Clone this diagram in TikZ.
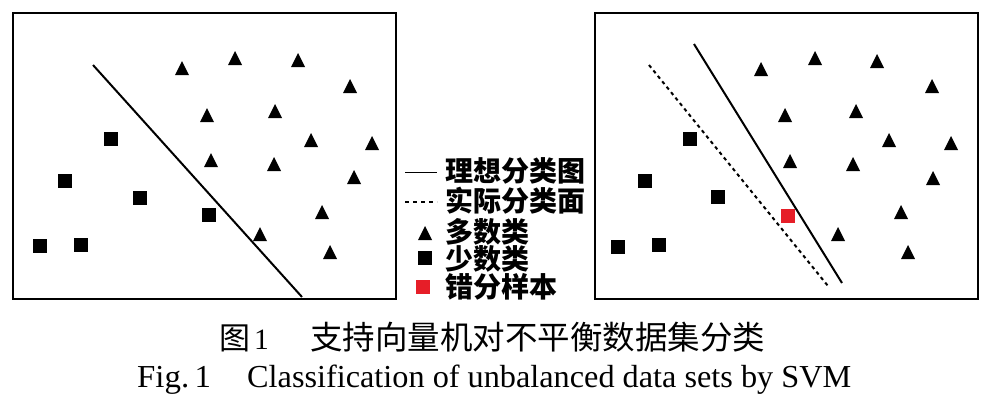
\documentclass[tikz,border=0pt]{standalone}
\usepackage{fontspec}
\usepackage{graphicx}
\setmainfont{Liberation Serif}
\newfontfamily\cjk{Noto Sans CJK SC}
\definecolor{wrongred}{RGB}{230,30,40}
\tikzset{
  panelframe/.style={line width=2pt},
  idealline/.style={line width=2pt},
  actualline/.style={line width=2pt, dash pattern=on 3.5pt off 3.5pt},
  legline/.style={line width=1.4pt},
  legdash/.style={line width=1.4pt, dash pattern=on 4pt off 4pt},
  legtext/.style={anchor=west, inner sep=0pt, font=\cjk\bfseries\fontsize{28}{28}\selectfont},
  captext/.style={inner sep=0pt},
  pics/mtri/.style={code={\fill (-7,7)--(7,7)--(0,-7)--cycle;}},
  pics/msq/.style={code={\fill (-6.7,-6.7) rectangle (6.7,6.7);}},
}
\begin{document}
\begin{tikzpicture}[x=1pt,y=-1pt]
\useasboundingbox (0,0) rectangle (989,405);
% left panel
\draw[panelframe] (13,13) rectangle (396,299);
\coordinate (la) at (93,65);
\coordinate (lb) at (302,297);
\draw[idealline] (la) -- (lb);
\foreach \x/\y in {182/68,235/58,298/60,350/86,207/115,275/111,311/140,372/143,211/160,274/164,354/177,322/212,260/234,330/252}
  \pic at (\x,\y) {mtri};
\foreach \x/\y in {111/139,65/181,140/198,209/215,40/246,81/245}
  \pic at (\x,\y) {msq};
% right panel
\draw[panelframe] (595,13) rectangle (978,299);
\coordinate (ra) at (694,44);
\coordinate (rb) at (842,283);
\coordinate (rc) at (649,65);
\coordinate (rd) at (828,286);
\draw[idealline] (ra) -- (rb);
\draw[actualline] (rc) -- (rd);
\foreach \x/\y in {761/69,815/58,877/61,932/86,785/115,856/111,889/140,951/143,790/161,853/164,933/178,901/212,838/234,908/252}
  \pic at (\x,\y) {mtri};
\foreach \x/\y in {690/139,645/181,718/197,618/247,659/245}
  \pic at (\x,\y) {msq};
\pic[wrongred] at (788,216) {msq};
% legend
\coordinate (l1a) at (405,172.5);
\coordinate (l1b) at (437,172.5);
\coordinate (l2a) at (405,202);
\coordinate (l2b) at (437,202);
\draw[legline] (l1a) -- (l1b);
\draw[legdash] (l2a) -- (l2b);
\pic at (425,233) {mtri};
\pic at (425,258) {msq};
\pic[wrongred] at (423,287) {msq};
\node[legtext] (t1) at (445,171) {理想分类图};
\node[legtext] (t2) at (445,201) {实际分类面};
\node[legtext] (t3) at (445,232) {多数类};
\node[legtext] (t4) at (445,259) {少数类};
\node[legtext] (t5) at (445,287) {错分样本};
% caption
\node[captext, anchor=base west] (c1) at (219,349) {{\cjk\fontsize{31}{31}\selectfont 图}\hspace{4pt}{\fontsize{29.5}{29.5}\selectfont 1}};
\node[captext, anchor=base west, font=\cjk\fontsize{32.5}{32.5}\selectfont] (c2) at (310,349) {支持向量机对不平衡数据集分类};
\node[captext, anchor=base west, font=\fontsize{32}{32}\selectfont] (c3) at (137,387) {\resizebox{74pt}{\height}{Fig.\,1}};
\node[captext, anchor=base west, font=\fontsize{32}{32}\selectfont] (c4) at (247,387) {\resizebox{604pt}{\height}{Classification of unbalanced data sets by SVM}};
\end{tikzpicture}
\end{document}
